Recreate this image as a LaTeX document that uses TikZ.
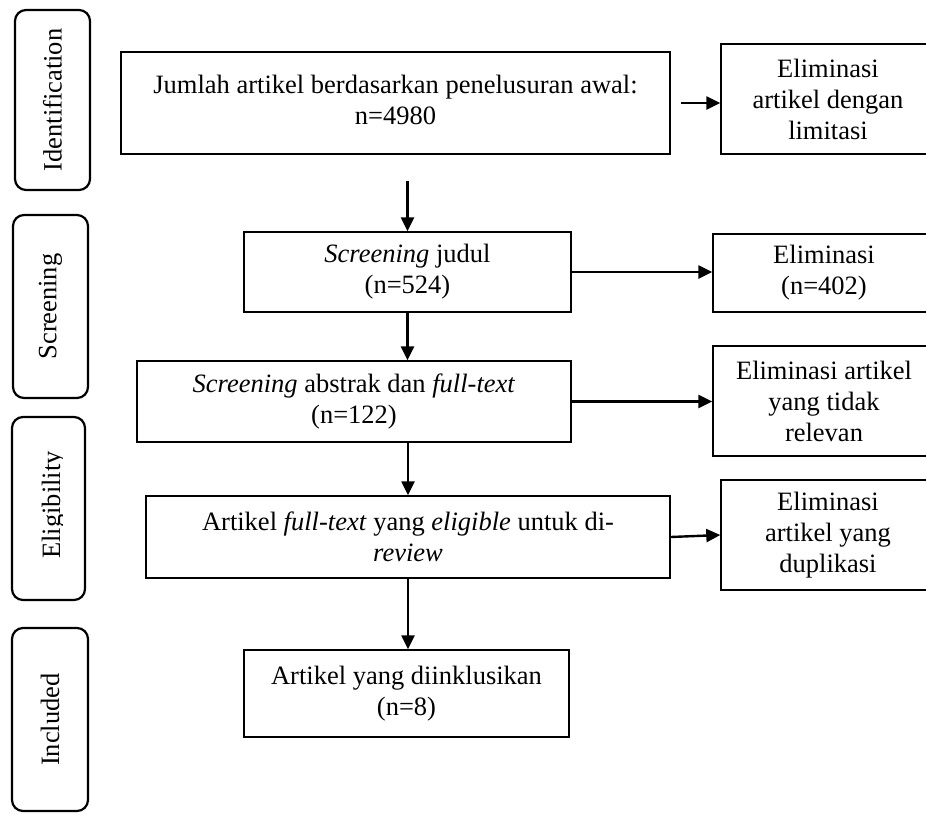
\documentclass[tikz,border=0pt]{standalone}
\usepackage{fontspec}
\setmainfont{Liberation Serif}
\usetikzlibrary{arrows.meta}
\begin{document}
\begin{tikzpicture}[x=1pt,y=-1pt,
  txt/.style={font=\fontsize{26.5}{31}\selectfont},
  box/.style={txt, draw, line width=1.4pt, inner sep=0pt, align=center},
  side/.style={txt, draw, line width=2.2pt, rounded corners=11pt, rotate=90, inner sep=0pt},
  lab/.style={txt, rotate=90, anchor=base, inner sep=0pt},
  arr/.style={line width=2.4pt, -{Triangle[length=14pt,width=13pt]}}]
\useasboundingbox (0,0) rectangle (926,814);
\clip (0,0) rectangle (926,814);

% side stage boxes
\node[side, minimum width=180pt, minimum height=75pt] (SI) at (52.5,100) {Identification};
\node[side, minimum width=183pt, minimum height=75pt] (SS) at (50.5,306.5) {Screening};
\node[side, minimum width=183pt, minimum height=73pt] (SE) at (48.5,508.5) {};
\begin{scope}
  \clip (0,400) rectangle (62,620);
  \node[lab] (SEt) at (60,505) {Eligibility};
\end{scope}
\node[side, minimum width=183pt, minimum height=76pt] (SN) at (50,719.5) {Included};

% main column
\node[box, minimum width=549pt, minimum height=102pt] (J) at (395.5,103)
  {\raisebox{8pt}{\begin{tabular}{@{}c@{}}Jumlah artikel berdasarkan penelusuran awal:\\ n=4980\end{tabular}}};
\node[box, minimum width=327pt, minimum height=80pt] (S1) at (407.5,272)
  {\textit{Screening} judul\\ (n=524)};
\node[box, minimum width=434pt, minimum height=81pt] (S2) at (354,401.5)
  {\textit{Screening} abstrak dan \textit{full-text}\\ (n=122)};
\node[box, minimum width=524pt, minimum height=82pt] (S3) at (408,537)
  {Artikel \textit{full-text} yang \textit{eligible} untuk di-\\ \textit{review}};
\node[box, minimum width=325pt, minimum height=87pt] (Inc) at (406.5,693.5)
  {Artikel yang diinklusikan\\ (n=8)};

% right column
\node[box, minimum width=214pt, minimum height=110pt] (L) at (828,99)
  {Eliminasi\\ artikel dengan\\ limitasi};
\node[box, minimum width=222pt, minimum height=78pt] (E2) at (824,273)
  {Eliminasi\\ (n=402)};
\node[box, minimum width=222pt, minimum height=110pt] (E3) at (824,401)
  {Eliminasi artikel\\ yang tidak\\ relevan};
\node[box, minimum width=214pt, minimum height=110pt] (E4) at (828,535)
  {Eliminasi\\ artikel yang\\ duplikasi};

% connectors
\path (J.east) ++(10,0) coordinate (je);
\path (J.south) ++(0,26) coordinate (jb);
\draw[arr] (je) -- (je -| L.west);
\draw[arr] (jb -| S1.north) -- (S1.north);
\draw[arr] (S1.east) -- (S1.east -| E2.west);
\draw[arr] (S1.south) -- (S1.south |- S2.north);
\draw[arr] (S2.east) -- (S2.east -| E3.west);
\draw[arr] (S3.north |- S2.south) -- (S3.north);
\draw[arr] (S3.east) -- (E4.west);
\draw[arr] (S3.south) -- (S3.south |- Inc.north);
\end{tikzpicture}
\end{document}
